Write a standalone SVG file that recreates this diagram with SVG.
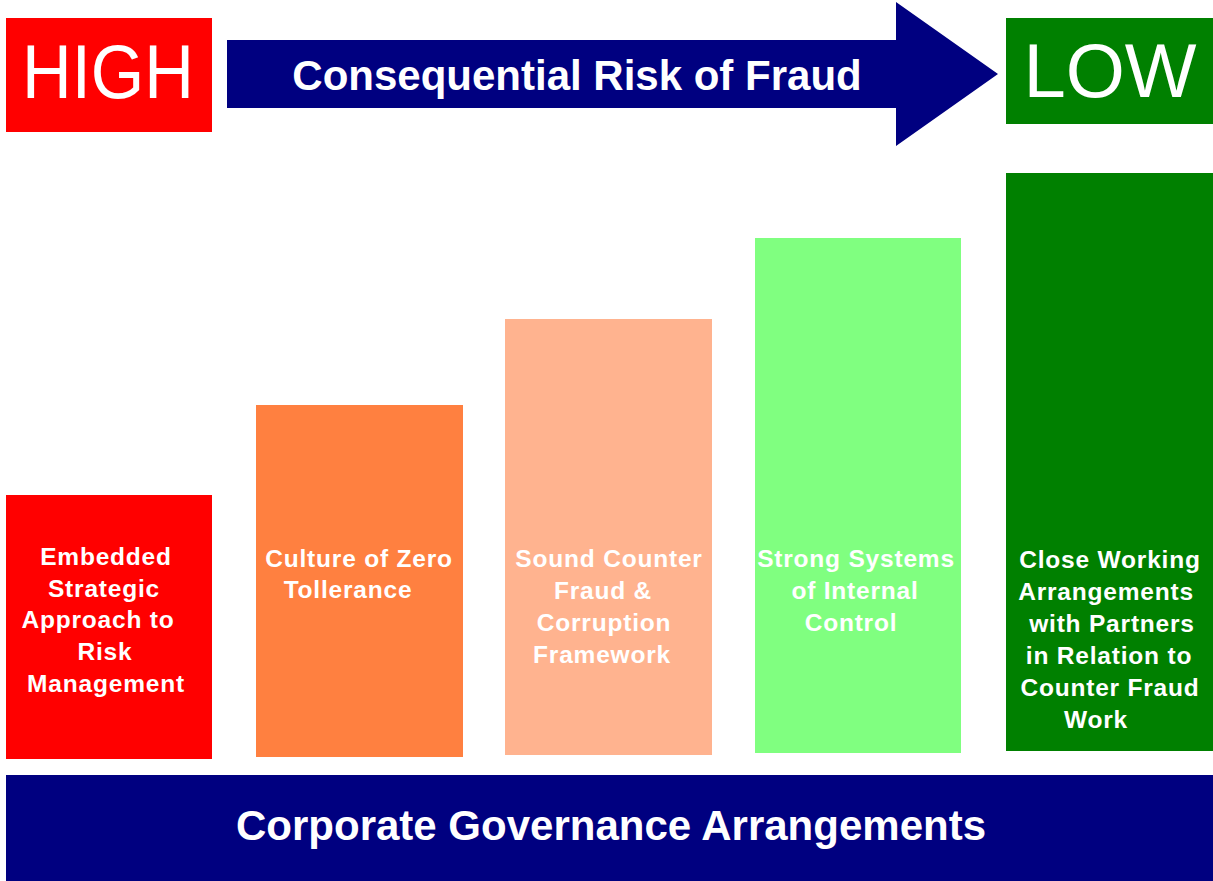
<svg xmlns="http://www.w3.org/2000/svg" width="1213" height="881" viewBox="0 0 1213 881">
  <style>
    .big { font-family: "Liberation Sans", Arial, sans-serif; font-size: 76px; fill: #ffffff; text-anchor: middle; }
    .head { font-family: "Liberation Sans", Arial, sans-serif; font-size: 42px; font-weight: bold; fill: #ffffff; text-anchor: middle; }
    .lbl { font-family: "Liberation Sans", Arial, sans-serif; font-size: 24.5px; font-weight: bold; fill: #ffffff; text-anchor: middle; letter-spacing: 0.8px; }
  </style>

  <rect width="1213" height="881" fill="#ffffff"/>

  <!-- Scale ends -->
  <g id="high">
    <rect x="6" y="18" width="206" height="114" fill="#ff0000"/>
    <text class="big" x="108" y="98" textLength="172" lengthAdjust="spacingAndGlyphs">HIGH</text>
  </g>
  <g id="low">
    <rect x="1006" y="18" width="207" height="106" fill="#008000"/>
    <text class="big" x="1110" y="97">LOW</text>
  </g>

  <!-- Direction arrow -->
  <g id="risk-arrow">
    <polygon points="227,40 896,40 896,2 998,74 896,146 896,108 227,108" fill="#000080"/>
    <text class="head" x="577" y="90">Consequential Risk of Fraud</text>
  </g>

  <!-- Bars -->
  <g id="bar-risk-management">
    <rect x="6" y="495" width="206" height="264" fill="#ff0000"/>
    <text class="lbl" x="106" y="565">Embedded</text>
    <text class="lbl" x="104" y="597">Strategic</text>
    <text class="lbl" x="98" y="628">Approach to</text>
    <text class="lbl" x="105" y="660">Risk</text>
    <text class="lbl" x="106" y="692">Management</text>
  </g>
  <g id="bar-zero-tolerance">
    <rect x="256" y="405" width="207" height="352" fill="#ff8040"/>
    <text class="lbl" x="359" y="567">Culture of Zero</text>
    <text class="lbl" x="348" y="598">Tollerance</text>
  </g>
  <g id="bar-framework">
    <rect x="505" y="319" width="207" height="436" fill="#ffb38f"/>
    <text class="lbl" x="609" y="567">Sound Counter</text>
    <text class="lbl" x="603" y="599">Fraud &amp;</text>
    <text class="lbl" x="604" y="631">Corruption</text>
    <text class="lbl" x="602" y="663">Framework</text>
  </g>
  <g id="bar-internal-control">
    <rect x="755" y="238" width="206" height="515" fill="#80ff80"/>
    <text class="lbl" x="856" y="567">Strong Systems</text>
    <text class="lbl" x="855" y="599">of Internal</text>
    <text class="lbl" x="851" y="631">Control</text>
  </g>
  <g id="bar-partners">
    <rect x="1006" y="173" width="207" height="578" fill="#008000"/>
    <text class="lbl" x="1110" y="568">Close Working</text>
    <text class="lbl" x="1106" y="600">Arrangements</text>
    <text class="lbl" x="1112" y="632">with Partners</text>
    <text class="lbl" x="1109" y="664">in Relation to</text>
    <text class="lbl" x="1110" y="696">Counter Fraud</text>
    <text class="lbl" x="1096" y="728">Work</text>
  </g>

  <!-- Foundation -->
  <g id="governance">
    <rect x="6" y="775" width="1207" height="106" fill="#000080"/>
    <text class="head" x="611" y="840">Corporate Governance Arrangements</text>
  </g>

  <g id="connectors"/>
</svg>
